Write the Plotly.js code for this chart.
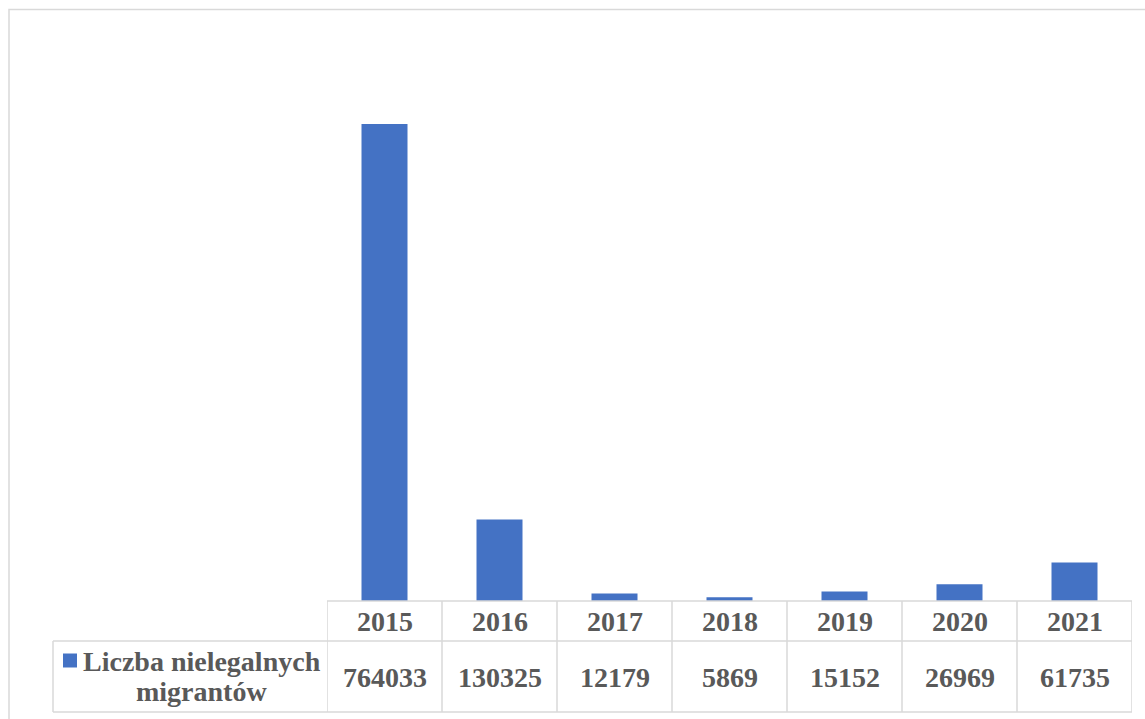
<!DOCTYPE html>
<html>
<head>
<meta charset="utf-8">
<script src="https://cdn.plot.ly/plotly-3.0.1.min.js"></script>
<style>
  html, body { margin: 0; padding: 0; background: #ffffff; }
  #chart { width: 1145px; height: 719px; }
</style>
</head>
<body>
<div id="chart"></div>
<script>
// Liczba nielegalnych migrantów, 2015–2021
const years = ['2015', '2016', '2017', '2018', '2019', '2020', '2021'];
const migrants = [764033, 130325, 12179, 5869, 15152, 26969, 61735];
const seriesName = 'Liczba nielegalnych migrantów';
const seriesLines = ['Liczba nielegalnych', 'migrantów'];

const W = 1145, H = 719;
const px = v => v / W;            // pixel -> paper x
const py = v => (H - v) / H;      // pixel -> paper y

const plotLeft = 327, plotRight = 1132;
const baseY = 601, rowY = 641, bottomY = 712, tableLeft = 53;

const gridColor = '#d9d9d9';
const textColor = '#595959';
const barColor = '#4472c4';
const font = { family: 'Liberation Serif', size: 28, color: textColor, weight: 'bold' };

const shapes = [];
const line = (xref, x0, x1, y0, y1) => shapes.push({
  type: 'line', xref: xref, yref: 'paper', x0: x0, x1: x1, y0: y0, y1: y1,
  line: { color: gridColor, width: 1.5 }
});

// outer chart frame
shapes.push({
  type: 'rect', xref: 'paper', yref: 'paper',
  x0: px(9), x1: px(1152), y0: py(9.5), y1: py(730),
  line: { color: gridColor, width: 1.5 }, fillcolor: 'rgba(0,0,0,0)'
});

// data table rules: header row, value row, column dividers
const n = years.length;
line('x', -0.5, n - 0.5, py(baseY), py(baseY));
line('paper', px(tableLeft), px(plotRight), py(rowY), py(rowY));
line('paper', px(tableLeft), px(plotRight), py(bottomY), py(bottomY));
line('paper', px(tableLeft), px(tableLeft), py(rowY), py(bottomY));
for (let i = 0; i <= n; i++) {
  line('x', i - 0.5, i - 0.5, py(baseY), py(bottomY));
}

// legend key square in the row header
shapes.push({
  type: 'rect', xref: 'paper', yref: 'paper',
  x0: px(63), x1: px(77), y0: py(653.5), y1: py(667.5),
  line: { width: 0 }, fillcolor: barColor
});

// table cells: category axis positions are serial indices
const annotations = [];
years.forEach((yr, i) => {
  annotations.push({
    x: i, xref: 'x', y: py(621), yref: 'paper', text: yr,
    showarrow: false, xanchor: 'center', yanchor: 'middle', font: font
  });
  annotations.push({
    x: i, xref: 'x', y: py(677), yref: 'paper', text: String(migrants[i]),
    showarrow: false, xanchor: 'center', yanchor: 'middle', font: font
  });
});
annotations.push({
  x: px(201.5), xref: 'paper', y: py(661), yref: 'paper', text: seriesLines[0],
  showarrow: false, xanchor: 'center', yanchor: 'middle', font: font
});
annotations.push({
  x: px(201.5), xref: 'paper', y: py(691), yref: 'paper', text: seriesLines[1],
  showarrow: false, xanchor: 'center', yanchor: 'middle', font: font
});

const data = [{
  type: 'bar', x: years, y: migrants, name: seriesName,
  marker: { color: barColor, line: { width: 0 } },
  hoverinfo: 'x+y'
}];

const layout = {
  width: W, height: H,
  margin: { l: 0, r: 0, t: 0, b: 0, pad: 0 },
  paper_bgcolor: '#ffffff', plot_bgcolor: '#ffffff',
  showlegend: false,
  bargap: 0.6,
  xaxis: {
    type: 'category', domain: [px(plotLeft), px(plotRight)], range: [-0.5, n - 0.5],
    showticklabels: false, showgrid: false, zeroline: false, showline: false, ticks: ''
  },
  yaxis: {
    domain: [py(baseY), py(39)], range: [0, 900000],
    showticklabels: false, showgrid: false, zeroline: false, showline: false, ticks: ''
  },
  shapes: shapes,
  annotations: annotations
};

Plotly.newPlot('chart', data, layout, { displayModeBar: false, staticPlot: true });
</script>
</body>
</html>
